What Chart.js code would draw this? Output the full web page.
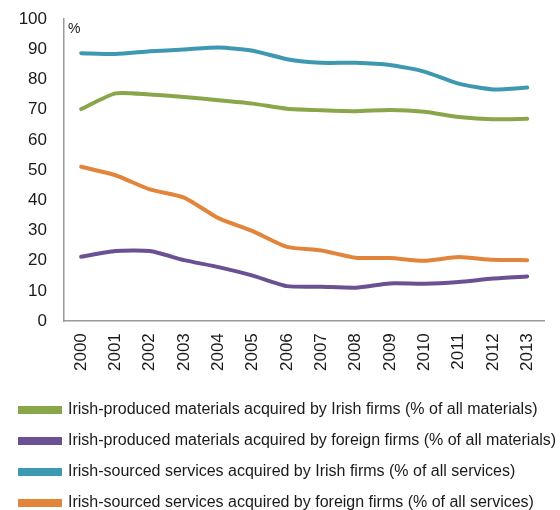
<!DOCTYPE html>
<html>
<head>
<meta charset="utf-8">
<script src="https://cdn.jsdelivr.net/npm/chart.js@4/dist/chart.umd.min.js"></script>
<style>
html,body{margin:0;padding:0;background:#fff;}
#wrap{width:560px;height:510px;position:relative;}
</style>
</head>
<body>
<div id="wrap"><canvas id="chartIrish"></canvas></div>
<script>
// data
const years=["2000","2001","2002","2003","2004","2005","2006","2007","2008","2009","2010","2011","2012","2013"];
const matIrish=[70.2,75.4,75.0,74.2,73.1,72.0,70.3,69.8,69.5,69.9,69.3,67.6,66.8,67.0];
const matForeign=[21.3,23.2,23.2,20.2,17.9,15.1,11.6,11.4,11.1,12.5,12.4,13.0,14.1,14.8];
const servIrish=[88.7,88.4,89.3,89.9,90.6,89.5,86.7,85.5,85.5,84.8,82.6,78.6,76.7,77.3];
const servForeign=[51.1,48.3,43.6,40.9,34.1,29.8,24.6,23.4,21.0,20.9,20.0,21.2,20.3,20.2];
const seriesNames=[
"Irish-produced materials acquired by Irish firms (% of all materials)",
"Irish-produced materials acquired by foreign firms (% of all materials)",
"Irish-sourced services acquired by Irish firms (% of all services)",
"Irish-sourced services acquired by foreign firms (% of all services)"
];

// colours
const verde="#8AA64A";
const morado="#6B5193";
const azul="#3E98B1";
const naranja="#E2853A";

Chart.defaults.font.family="'Liberation Sans', Arial, sans-serif";
Chart.defaults.color="#1a1a1a";

const percentLabel={
id:"percentLabel",
afterDraw(chart){
const ctx=chart.ctx;
ctx.save();
ctx.font="14px 'Liberation Sans', Arial, sans-serif";
ctx.fillStyle="#1a1a1a";
ctx.textBaseline="top";
ctx.fillText("%",chart.chartArea.left+4,chart.chartArea.top+3);
ctx.restore();
}
};

function ds(label,data,color){
return {label:label,data:data,borderColor:color,backgroundColor:color,borderWidth:4,
borderCapStyle:"round",pointRadius:0,tension:0.2,fill:false};
}

new Chart(document.getElementById("chartIrish"),{
type:"line",
data:{
labels:years,
datasets:[
ds(seriesNames[0],matIrish,verde),
ds(seriesNames[1],matForeign,morado),
ds(seriesNames[2],servIrish,azul),
ds(seriesNames[3],servForeign,naranja)
]
},
options:{
responsive:true,
maintainAspectRatio:false,
animation:false,
layout:{padding:{left:5,right:2,top:19,bottom:-11}},
plugins:{
tooltip:{enabled:false},
legend:{
position:"bottom",
align:"start",
labels:{
boxWidth:40,
boxHeight:4,
padding:15,
font:{size:16},
color:"#1a1a1a"
}
}
},
scales:{
x:{
offset:true,
afterFit(scale){scale.height+=4;},
grid:{display:false,drawTicks:false},
border:{display:true,color:"#999",width:1.5},
ticks:{maxRotation:90,minRotation:90,padding:12,font:{size:17},color:"#1a1a1a"}
},
y:{
min:0,
max:100,
afterFit(scale){scale.width=59;scale.paddingTop=10;scale.paddingBottom=10;},
grid:{display:false,drawTicks:false},
border:{display:true,color:"#999",width:1.5},
ticks:{stepSize:10,padding:17,font:{size:17},color:"#1a1a1a"}
},
yRight:{
position:"right",
display:true,
afterFit(scale){scale.width=9;},
grid:{display:false,drawTicks:false},
border:{display:false},
ticks:{display:false}
}
}
},
plugins:[percentLabel]
});
</script>
</body>
</html>
